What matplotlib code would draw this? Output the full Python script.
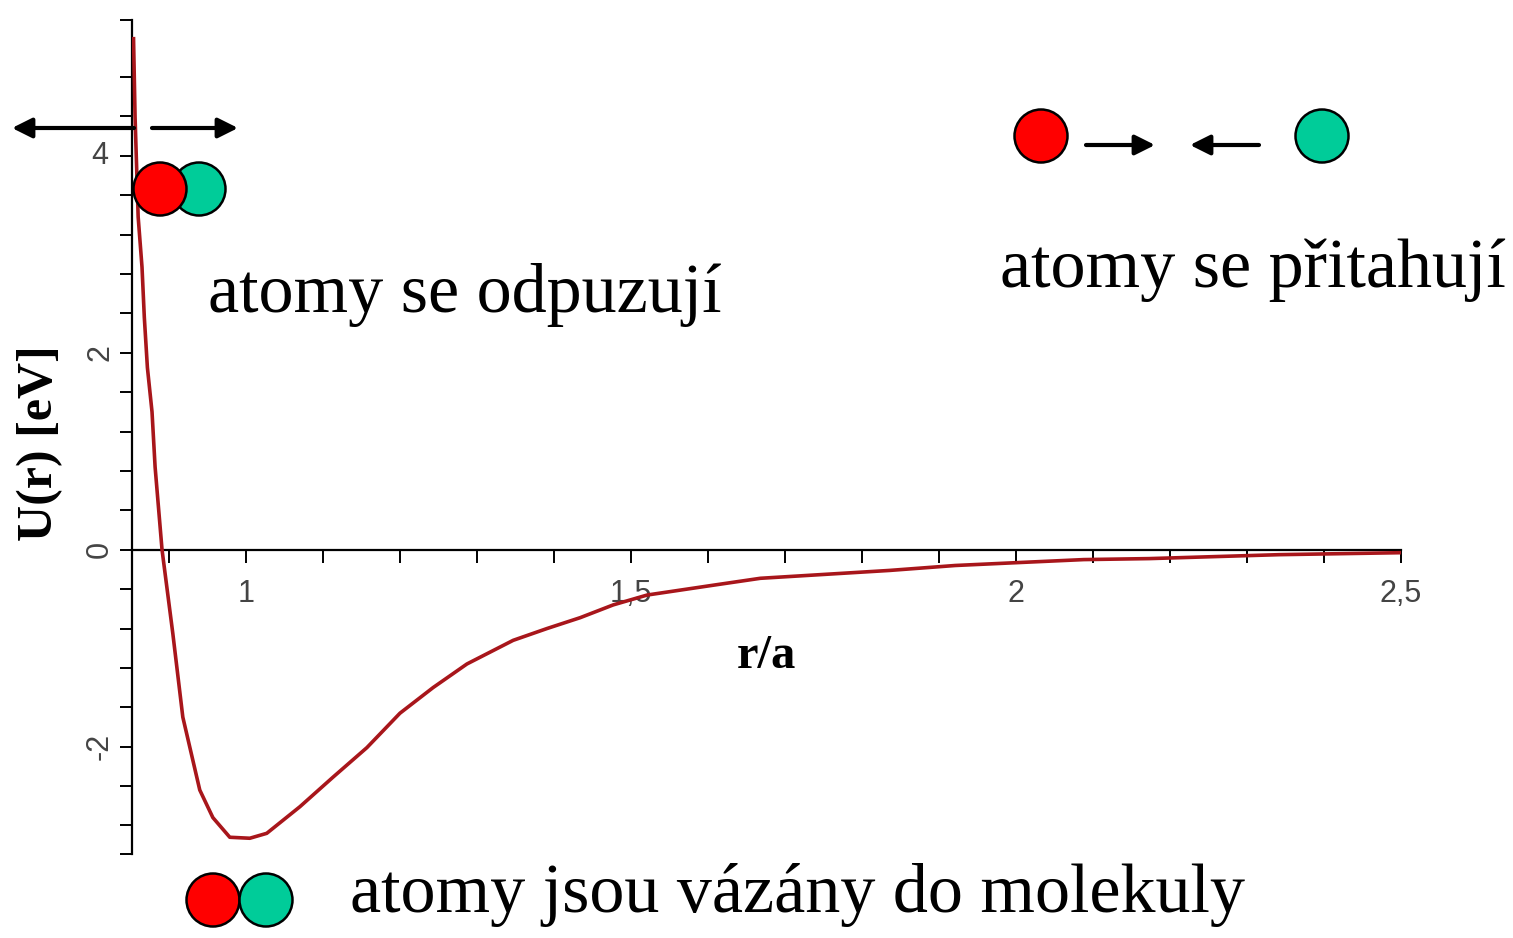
import matplotlib
matplotlib.use("Agg")
import matplotlib.pyplot as plt
import numpy as np
from matplotlib.patches import Circle

# values
r_vals = [0.854, 0.856, 0.860, 0.865, 0.868, 0.872, 0.878, 0.882, 0.891,
          0.905, 0.918, 0.940, 0.957, 0.979, 1.005, 1.027, 1.070, 1.113,
          1.157, 1.200, 1.243, 1.287, 1.347, 1.391, 1.434, 1.477, 1.521,
          1.564, 1.607, 1.668, 1.752, 1.836, 1.921, 2.004, 2.088, 2.173,
          2.257, 2.342, 2.500]
u_vals = [5.19, 4.39, 3.38, 2.87, 2.36, 1.85, 1.40, 0.84, 0.00,
          -0.85, -1.70, -2.44, -2.72, -2.92, -2.93, -2.88, -2.61, -2.31,
          -2.01, -1.66, -1.40, -1.16, -0.92, -0.80, -0.69, -0.56, -0.46,
          -0.41, -0.36, -0.29, -0.25, -0.21, -0.16, -0.13, -0.10, -0.09,
          -0.07, -0.05, -0.03]

x_ticks = [1.0, 1.5, 2.0, 2.5]
x_labels = ["1", "1,5", "2", "2,5"]
y_ticks = [-2, 0, 2, 4]
y_labels = ["-2", "0", "2", "4"]

W, H = 1513, 938
fig = plt.figure(figsize=(W / 100, H / 100), dpi=100)
ax = fig.add_axes([132 / W, 1 - 854 / H, (1401 - 132) / W, (854 - 20) / H])

ax.plot(r_vals, u_vals, color="#a8161b", lw=2.6, zorder=3)
ax.set_xlim(0.852, 2.5)
ax.set_ylim(-3.09, 5.38)

ax.spines["top"].set_visible(False)
ax.spines["right"].set_visible(False)
ax.spines["bottom"].set_position(("data", 0))
ax.spines["bottom"].set_linewidth(1.6)
ax.spines["left"].set_linewidth(1.6)

ax.set_xticks(x_ticks)
ax.set_xticklabels(x_labels)
ax.set_xticks(np.round(np.arange(0.9, 2.45, 0.1), 2), minor=True)
ax.set_yticks(y_ticks)
ax.set_yticklabels(y_labels, va="center", ha="center")
ax.set_yticks([-3.09, -2.8, -2.4, -1.6, -1.2, -0.8, -0.4, 0.4, 0.8, 1.2,
               1.6, 2.4, 2.8, 3.2, 3.6, 4.4, 4.8, 5.38], minor=True)

ax.tick_params(axis="x", which="both", direction="out", length=9, width=1.4,
               pad=12, labelsize=22, labelcolor="#444444")
ax.tick_params(axis="y", which="both", direction="out", length=9, width=1.4,
               pad=14, labelsize=22, labelcolor="#444444")
for lab in ax.get_xticklabels() + ax.get_yticklabels():
    lab.set_family("Liberation Sans")
# Maple-style: the lower y labels are turned on their side, "4" is not
for lab in ax.get_yticklabels():
    if lab.get_text() != "4":
        lab.set_rotation(90)

fig.text(40 / W, 1 - 443 / H, "U(r) [eV]", rotation=90, ha="center",
         va="center", fontsize=36, fontweight="bold", family="Liberation Serif")
fig.text(766 / W, 1 - 656 / H, "r/a", ha="center", va="center",
         fontsize=35, fontweight="bold", family="Liberation Serif")

# overlay in pixel coordinates for the pictures of atoms
ov = fig.add_axes([0, 0, 1, 1], zorder=5)
ov.set_xlim(0, W)
ov.set_ylim(H, 0)
ov.axis("off")

red = "#ff0000"
green = "#00cc99"

def atom(x, y, c, z=6):
    ov.add_patch(Circle((x, y), 26.5, facecolor=c, edgecolor="black", lw=1.8, zorder=z))

def arrow(x0, x1, y):
    ov.annotate("", xy=(x1, y), xytext=(x0, y),
                arrowprops=dict(arrowstyle="-|>,head_length=1.2,head_width=0.6",
                                color="black", lw=3, shrinkA=0, shrinkB=0,
                                mutation_scale=10))

# repulsion
arrow(134, 12, 128)
arrow(152, 238, 128)
atom(199, 189, green, 6)
atom(160, 189, red, 7)

# attraction
atom(1041, 136, red)
atom(1322, 136, green)
arrow(1086, 1155, 145)
arrow(1259, 1190, 145)

# bound
atom(213, 900, red)
atom(266, 900, green)

txt = dict(fontsize=50.5, family="Liberation Serif", va="baseline", ha="left", color="black")
ov.text(208, 312, "atomy se odpuzují", **txt)
ov.text(1000, 287, "atomy se přitahují", **txt)
ov.text(350, 912, "atomy jsou vázány do molekuly", **txt)

fig.savefig("out.png", dpi=100, facecolor="white")
